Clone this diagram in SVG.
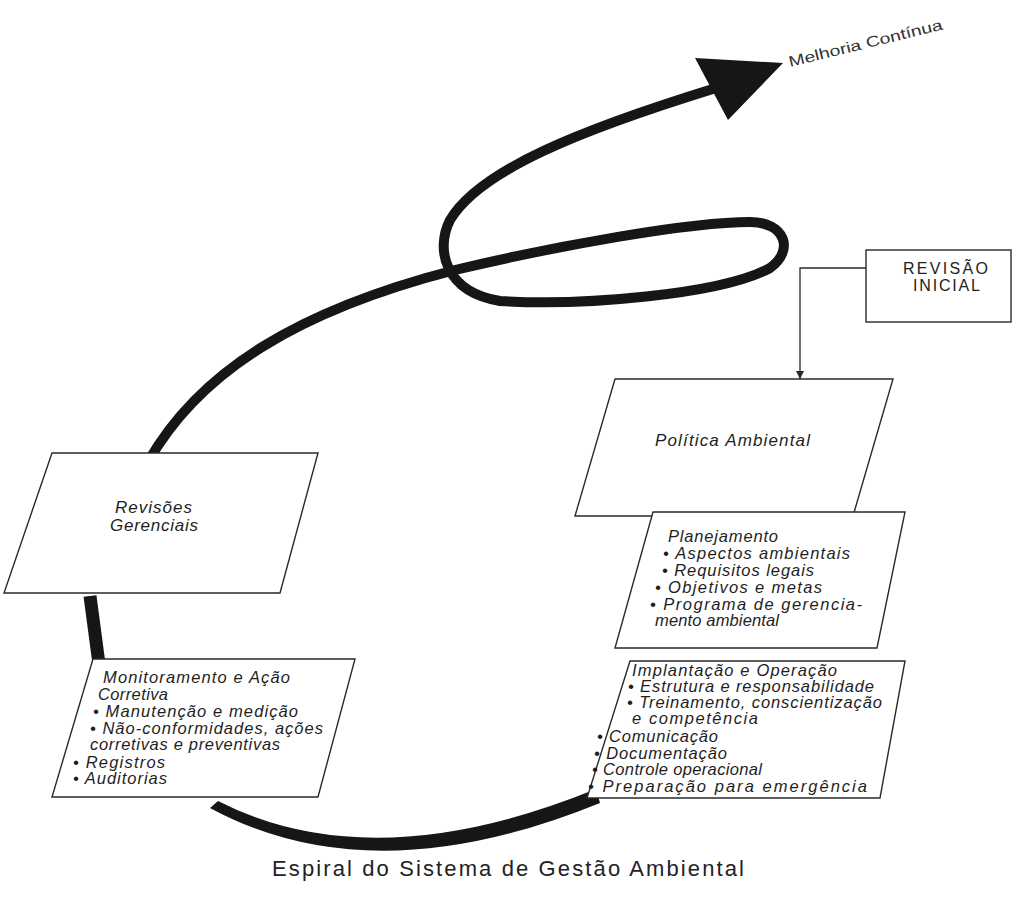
<svg xmlns="http://www.w3.org/2000/svg" width="1015" height="897" viewBox="0 0 1015 897">
<style>
.box{fill:#fff;stroke:#2a2a2a;stroke-width:1.4;stroke-linejoin:miter}
.t{font-family:"Liberation Sans",Arial,Helvetica,sans-serif;font-size:16.5px;font-style:italic;fill:#1e1e1e}
.tt{font-family:"Liberation Sans",Arial,Helvetica,sans-serif;font-size:17px;font-style:italic;fill:#1e1e1e}
.up{font-family:"Liberation Sans",Arial,Helvetica,sans-serif;font-size:16px;fill:#222}
.sp{fill:none;stroke:#161616;stroke-linecap:butt;stroke-linejoin:round}
.thin{fill:none;stroke:#2a2a2a;stroke-width:1.3}
</style>
<defs>
<marker id="ah" viewBox="0 0 10 10" refX="10" refY="5" markerWidth="8" markerHeight="8" markerUnits="userSpaceOnUse" orient="auto">
<path d="M0,0 L10,5 L0,10 z" fill="#2a2a2a"/>
</marker>
</defs>
<g id="connectors">
<path class="sp" stroke-width="10" d="M148,462 C200,370 300,310 455,270 C560,245 690,222 750,222 C785,222 795,250 770,268 C720,295 580,306 500,301 C445,292 435,250 450,220 C480,170 580,130 716,88"/>
<polygon points="695,58 783,63 728,120" fill="#161616"/>
<path class="sp" stroke-width="13" d="M90,596 L99,664"/>
<path d="M210,808 Q372,896 600,803 L596,789 Q372,880 218,801 Z" fill="#161616"/>
<path class="thin" d="M866,268 L800,268 L800,379" marker-end="url(#ah)"/>
</g>
<g id="revisao-inicial">
<rect class="box" x="866" y="250" width="145" height="72"/>
<text class="up" x="903" y="274" textLength="85">REVISÃO</text>
<text class="up" x="913" y="291" textLength="67">INICIAL</text>
</g>
<g id="politica">
<polygon class="box" points="615,379 893,379 853,516 575,516"/>
<text class="tt" x="655" y="446" textLength="155">Política Ambiental</text>
</g>
<g id="planejamento">
<polygon class="box" points="653,512 905,512 877,648 615,648"/>
<text class="t" x="668" y="542" textLength="110">Planejamento</text>
<text class="t" x="663" y="559" textLength="187">• Aspectos ambientais</text>
<text class="t" x="662" y="576" textLength="152">• Requisitos legais</text>
<text class="t" x="655" y="593" textLength="167">• Objetivos e metas</text>
<text class="t" x="650" y="610" textLength="212">• Programa de gerencia-</text>
<text class="t" x="655" y="626" textLength="124">mento ambiental</text>
</g>
<g id="implantacao">
<polygon class="box" points="630,661 905,661 880,798 587,798"/>
<text class="t" x="632" y="676" textLength="205">Implantação e Operação</text>
<text class="t" x="628" y="692" textLength="246">• Estrutura e responsabilidade</text>
<text class="t" x="627" y="708" textLength="255">• Treinamento, conscientização</text>
<text class="t" x="632" y="724" textLength="126">e competência</text>
<text class="t" x="597" y="742" textLength="121">• Comunicação</text>
<text class="t" x="594" y="759" textLength="133">• Documentação</text>
<text class="t" x="592" y="775" textLength="170">• Controle operacional</text>
<text class="t" x="588" y="792" textLength="279">• Preparação para emergência</text>
</g>
<g id="revisoes">
<polygon class="box" points="52,453 318,453 280,593 4,593"/>
<text class="tt" x="115" y="513" textLength="77">Revisões</text>
<text class="tt" x="110" y="531" textLength="88">Gerenciais</text>
</g>
<g id="monitoramento">
<polygon class="box" points="93,659 355,659 318,797 52,797"/>
<text class="t" x="103" y="683" textLength="187">Monitoramento e Ação</text>
<text class="t" x="98" y="700" textLength="70">Corretiva</text>
<text class="t" x="93" y="717" textLength="205">• Manutenção e medição</text>
<text class="t" x="90" y="734" textLength="233">• Não-conformidades, ações</text>
<text class="t" x="90" y="750" textLength="190">corretivas e preventivas</text>
<text class="t" x="73" y="768" textLength="92">• Registros</text>
<text class="t" x="73" y="784" textLength="94">• Auditorias</text>
</g>
<g id="melhoria">
<text font-family="Liberation Sans,Arial,sans-serif" font-size="15" fill="#333" transform="translate(790,67) rotate(-13.8)" textLength="158" lengthAdjust="spacingAndGlyphs">Melhoria Contínua</text>
</g>
<g id="caption">
<text font-family="Liberation Sans,Arial,sans-serif" font-size="22" fill="#222" x="272" y="876" textLength="472">Espiral do Sistema de Gestão Ambiental</text>
</g>
</svg>
